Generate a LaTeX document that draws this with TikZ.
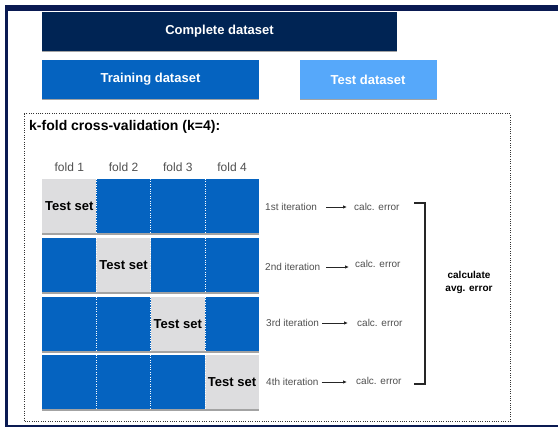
\documentclass[tikz,border=0pt]{standalone}
\usepackage{fontspec}
\setmainfont{Liberation Sans}
\usetikzlibrary{arrows.meta,shadows,calc}
\definecolor{framenavy}{RGB}{10,26,82}
\definecolor{fullnavy}{RGB}{0,36,84}
\definecolor{trainblue}{RGB}{5,99,192}
\definecolor{testblue}{RGB}{86,168,250}
\definecolor{cellgray}{RGB}{221,221,223}
\definecolor{labelgray}{RGB}{80,80,80}
\begin{document}
\begin{tikzpicture}[x=1pt,y=-1pt,
  shade/.style={drop shadow={shadow xshift=0pt,shadow yshift=-1.4pt,opacity=0.55,fill=black!65}},
  dsbox/.style={shade,inner sep=0pt,minimum height=39pt,text=white,
    font=\bfseries\fontsize{13}{15}\selectfont},
  cell/.style={shade,inner sep=0pt,minimum width=54.25pt,minimum height=54pt,
    anchor=north west,fill=trainblue},
  testcell/.style={cell,fill=cellgray,text=black,font=\bfseries\fontsize{13}{15}\selectfont},
  divider/.style={white,line width=0.9pt,dash pattern=on 1pt off 1.4pt},
  foldlbl/.style={text=labelgray,font=\fontsize{12}{14}\selectfont,inner sep=0pt},
  itlbl/.style={text=labelgray,font=\fontsize{10}{12}\selectfont,inner sep=0pt,anchor=west},
  arr/.style={-{Latex[length=4pt,width=3.5pt]},line width=0.9pt,black!85},
  bracket/.style={line width=1.1pt,black!85},
  dotbox/.style={line width=1pt,black!80,dash pattern=on 1pt off 1.3pt}]
\useasboundingbox (0,0) rectangle (558,427);
\fill[white] (0,0) rectangle (558,427);

% outer frame
\fill[framenavy] (5,5) rectangle (558,11);
\fill[framenavy] (5,5) rectangle (8,427);
\fill[framenavy] (5,425.5) rectangle (558,427);

% dataset boxes
\node[dsbox,fill=fullnavy,minimum width=355pt] (full) at (219.5,31.5) {Complete dataset};
\node[dsbox,fill=trainblue,minimum width=217pt] (train) at (150.5,79.5) {Training dataset};
\node[dsbox,fill=testblue,minimum width=137pt] (test) at (368,79.5) {Test dataset};

% cross-validation panel
\draw[dotbox] (24,114) rectangle (510.5,421.5);
\node[anchor=base west,inner sep=0pt,font=\bfseries\fontsize{14}{16}\selectfont] (title) at (29,131) {k-fold cross-validation (k=4):};

% fold grid
\foreach \r/\top in {1/179,2/238,3/297,4/355}{
  \foreach \k in {1,2,3,4}{
    \ifnum\k=\r
      \node[testcell] (c\r\k) at ({42+(\k-1)*54.25},\top) {Test set};
    \else
      \node[cell] (c\r\k) at ({42+(\k-1)*54.25},\top) {};
    \fi
  }
  \foreach \k in {1,2,3}{
    \draw[divider] (c\r\k.north east) -- (c\r\k.south east);
  }
}
\foreach \k in {1,2,3,4}{
  \node[foldlbl] (f\k) at ([yshift=12pt]c1\k.north) {fold \k};
}

% iteration labels, arrows and errors
\node[itlbl] (it1) at (265,207) {1st iteration};
\node[itlbl] (it2) at (265,267) {2nd iteration};
\node[itlbl] (it3) at (266,323) {3rd iteration};
\node[itlbl] (it4) at (266,382) {4th iteration};
\node[itlbl] (e1) at (354,207) {calc. error};
\node[itlbl] (e2) at (355,264) {calc. error};
\node[itlbl] (e3) at (357,323) {calc. error};
\node[itlbl] (e4) at (356,381) {calc. error};
\draw[arr,shorten <=9pt,shorten >=7pt] (it1.east) -- (it1.east -| e1.west);
\draw[arr,shorten <=6pt,shorten >=6pt] (it2.east) -- (it2.east -| e2.west);
\draw[arr,shorten <=3pt,shorten >=9pt] (it3.east) -- (it3.east -| e3.west);
\draw[arr,shorten <=3pt,shorten >=9pt] (it4.east) -- (it4.east -| e4.west);

% averaging bracket
\coordinate (btop) at (414,203);
\coordinate (bbot) at (414,384);
\draw[bracket] (btop) -- ++(11,0) |- (bbot);
\node[align=center,inner sep=0pt,font=\bfseries\fontsize{10}{13}\selectfont] (avg) at (469,282.5) {calculate\\avg. error};
\end{tikzpicture}
\end{document}
